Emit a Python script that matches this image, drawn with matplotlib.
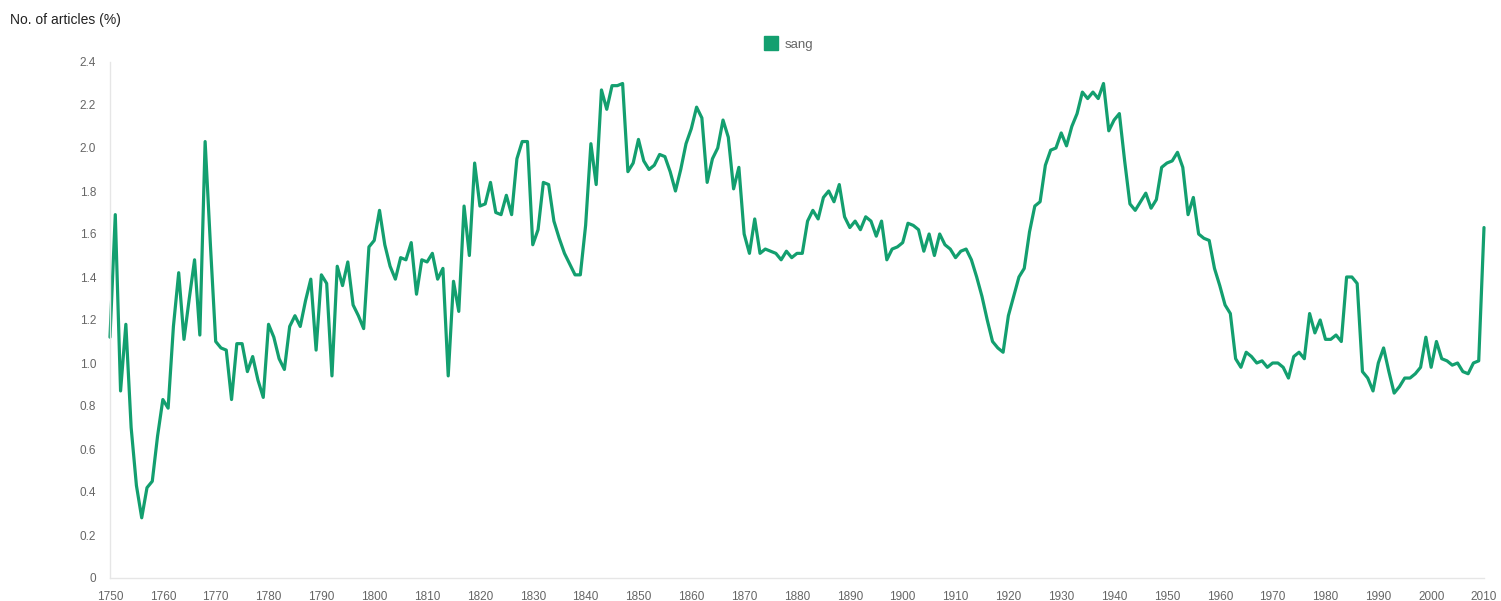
#!/usr/bin/env python3
# -*- coding: utf-8 -*-

import matplotlib
matplotlib.use("Agg")
import matplotlib.pyplot as plt
from matplotlib.lines import Line2D

plt.rcParams["font.family"] = ["Liberation Sans", "DejaVu Sans"]

# yearly share of articles
years = list(range(1750, 2011))
sang = [
    # 1750-1759
    1.12, 1.69, 0.87, 1.18, 0.70, 0.43, 0.28, 0.42, 0.45, 0.66,
    # 1760-1769
    0.83, 0.79, 1.17, 1.42, 1.11, 1.30, 1.48, 1.13, 2.03, 1.55,
    # 1770-1779
    1.10, 1.07, 1.06, 0.83, 1.09, 1.09, 0.96, 1.03, 0.92, 0.84,
    # 1780-1789
    1.18, 1.12, 1.02, 0.97, 1.17, 1.22, 1.17, 1.29, 1.39, 1.06,
    # 1790-1799
    1.41, 1.37, 0.94, 1.45, 1.36, 1.47, 1.27, 1.22, 1.16, 1.54,
    # 1800-1809
    1.57, 1.71, 1.55, 1.45, 1.39, 1.49, 1.48, 1.56, 1.32, 1.48,
    # 1810-1819
    1.47, 1.51, 1.39, 1.44, 0.94, 1.38, 1.24, 1.73, 1.50, 1.93,
    # 1820-1829
    1.73, 1.74, 1.84, 1.70, 1.69, 1.78, 1.69, 1.95, 2.03, 2.03,
    # 1830-1839
    1.55, 1.62, 1.84, 1.83, 1.66, 1.58, 1.51, 1.46, 1.41, 1.41,
    # 1840-1849
    1.64, 2.02, 1.83, 2.27, 2.18, 2.29, 2.29, 2.30, 1.89, 1.93,
    # 1850-1859
    2.04, 1.94, 1.90, 1.92, 1.97, 1.96, 1.89, 1.80, 1.90, 2.02,
    # 1860-1869
    2.09, 2.19, 2.14, 1.84, 1.95, 2.00, 2.13, 2.05, 1.81, 1.91,
    # 1870-1879
    1.60, 1.51, 1.67, 1.51, 1.53, 1.52, 1.51, 1.48, 1.52, 1.49,
    # 1880-1889
    1.51, 1.51, 1.66, 1.71, 1.67, 1.77, 1.80, 1.75, 1.83, 1.68,
    # 1890-1899
    1.63, 1.66, 1.62, 1.68, 1.66, 1.59, 1.66, 1.48, 1.53, 1.54,
    # 1900-1909
    1.56, 1.65, 1.64, 1.62, 1.52, 1.60, 1.50, 1.60, 1.55, 1.53,
    # 1910-1919
    1.49, 1.52, 1.53, 1.48, 1.40, 1.31, 1.20, 1.10, 1.07, 1.05,
    # 1920-1929
    1.22, 1.31, 1.40, 1.44, 1.61, 1.73, 1.75, 1.92, 1.99, 2.00,
    # 1930-1939
    2.07, 2.01, 2.10, 2.16, 2.26, 2.23, 2.26, 2.23, 2.30, 2.08,
    # 1940-1949
    2.13, 2.16, 1.94, 1.74, 1.71, 1.75, 1.79, 1.72, 1.76, 1.91,
    # 1950-1959
    1.93, 1.94, 1.98, 1.91, 1.69, 1.77, 1.60, 1.58, 1.57, 1.44,
    # 1960-1969
    1.36, 1.27, 1.23, 1.02, 0.98, 1.05, 1.03, 1.00, 1.01, 0.98,
    # 1970-1979
    1.00, 1.00, 0.98, 0.93, 1.03, 1.05, 1.02, 1.23, 1.14, 1.20,
    # 1980-1989
    1.11, 1.11, 1.13, 1.10, 1.40, 1.40, 1.37, 0.96, 0.93, 0.87,
    # 1990-1999
    1.00, 1.07, 0.96, 0.86, 0.89, 0.93, 0.93, 0.95, 0.98, 1.12,
    # 2000-2010
    0.98, 1.10, 1.02, 1.01, 0.99, 1.00, 0.96, 0.95, 1.00, 1.01, 1.63,
]

x_ticks = list(range(1750, 2011, 10))
y_ticks = [0, 0.2, 0.4, 0.6, 0.8, 1.0, 1.2, 1.4, 1.6, 1.8, 2.0, 2.2, 2.4]
y_tick_labels = ["0"] + [f"{v:.1f}" for v in y_ticks[1:]]

line_color = "#139f6f"
text_gray = "#666666"
axis_gray = "#e6e6e6"

fig = plt.figure(figsize=(15.01, 6.01), dpi=100)
ax = fig.add_axes([110 / 1501, 23 / 601, (1484 - 110) / 1501, (578 - 62) / 601])

ax.plot(years, sang, color=line_color, linewidth=2.3,
        solid_joinstyle="round", solid_capstyle="round", clip_on=False)

ax.set_xlim(1750, 2010)
ax.set_ylim(0, 2.4)
ax.set_xticks(x_ticks)
ax.set_yticks(y_ticks)
ax.set_yticklabels(y_tick_labels)
ax.tick_params(axis="both", length=0, labelsize=8.5, labelcolor=text_gray)
ax.tick_params(axis="x", pad=9)
ax.tick_params(axis="y", pad=10)

for side in ("top", "right"):
    ax.spines[side].set_visible(False)
for side in ("left", "bottom"):
    ax.spines[side].set_color(axis_gray)
    ax.spines[side].set_linewidth(1.0)

fig.text(10 / 1501, 1 - 20 / 601, "No. of articles (%)", ha="left", va="center",
         fontsize=10, color="#222222")

handle = Line2D([], [], linestyle="none", marker="s", markersize=10,
                markerfacecolor=line_color, markeredgecolor=line_color)
fig.legend([handle], ["sang"], loc="center", bbox_to_anchor=(789 / 1501, 1 - 45 / 601),
           frameon=False, fontsize=9.5, labelcolor=text_gray,
           handletextpad=0.5, handlelength=1.0)

fig.savefig("out.png", dpi=100)
